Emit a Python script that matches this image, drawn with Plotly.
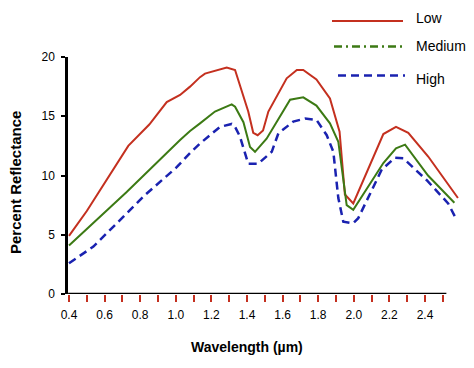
import plotly.graph_objects as go

# Data
low_x = [0.40, 0.50, 0.733, 0.851, 0.949, 1.024, 1.08, 1.136, 1.164, 1.286, 1.333, 1.407, 1.435, 1.46, 1.49, 1.52,
         1.623, 1.68, 1.716, 1.79, 1.866, 1.92, 1.95, 1.997, 2.166, 2.237, 2.306, 2.418, 2.585]
low_y = [4.9, 7.0, 12.5, 14.3, 16.2, 16.8, 17.5, 18.3, 18.6, 19.1, 18.9, 15.4, 13.6, 13.4, 13.8, 15.4,
         18.2, 18.9, 18.9, 18.1, 16.5, 13.7, 8.4, 7.65, 13.5, 14.1, 13.6, 11.6, 8.1]

med_x = [0.40, 0.724, 1.024, 1.08, 1.136, 1.22, 1.314, 1.333, 1.38, 1.417, 1.445, 1.51, 1.642, 1.716, 1.79,
         1.866, 1.913, 1.96, 1.997, 2.166, 2.237, 2.288, 2.417, 2.565]
med_y = [4.1, 8.6, 13.0, 13.75, 14.4, 15.4, 16.0, 15.8, 14.5, 12.4, 12.0, 13.1, 16.4, 16.6, 15.9,
         14.4, 12.85, 7.5, 7.1, 11.05, 12.3, 12.6, 10.0, 7.7]

high_x = [0.40, 0.537, 0.827, 1.005, 1.08, 1.136, 1.248, 1.314, 1.333, 1.36, 1.407, 1.463, 1.539, 1.576, 1.66,
          1.726, 1.79, 1.848, 1.885, 1.913, 1.941, 1.997, 2.025, 2.157, 2.231, 2.278, 2.41, 2.53, 2.578]
high_y = [2.6, 4.0, 8.35, 10.7, 11.9, 12.7, 14.1, 14.35, 14.1, 13.3, 11.0, 11.0, 12.0, 13.55, 14.55,
          14.8, 14.7, 13.4, 12.0, 8.1, 6.1, 5.97, 6.4, 10.5, 11.5, 11.45, 9.6, 7.65, 6.25]

series_names = ["Low", "Medium", "High"]
x_tick_vals = [0.4, 0.5, 0.6, 0.7, 0.8, 0.9, 1.0, 1.1, 1.2, 1.3, 1.4, 1.5, 1.6, 1.7, 1.8, 1.9, 2.0, 2.1, 2.2, 2.3, 2.4, 2.5]
x_tick_text = ["0.4", "", "0.6", "", "0.8", "", "1.0", "", "1.2", "", "1.4", "", "1.6", "", "1.8", "", "2.0", "", "2.2", "", "2.4", ""]
y_tick_vals = [0, 5, 10, 15, 20]
x_title = "Wavelength (µm)"
y_title = "Percent Reflectance"

RED = "#c4301f"
GREEN = "#3c7a14"
BLUE = "#1a22b0"
FONT = "Liberation Sans, Arial, sans-serif"

W, H = 474, 368
L, R, T, B = 68, 12, 57, 74
pw, ph = W - L - R, H - T - B


def px(x):
    return (x - L) / pw


def py(y):
    return (H - B - y) / ph


fig = go.Figure()
fig.add_trace(go.Scatter(x=low_x, y=low_y, mode="lines", line=dict(color=RED, width=2), name=series_names[0], showlegend=False))
fig.add_trace(go.Scatter(x=med_x, y=med_y, mode="lines", line=dict(color=GREEN, width=2), name=series_names[1], showlegend=False))
fig.add_trace(go.Scatter(x=high_x, y=high_y, mode="lines", line=dict(color=BLUE, width=2.5, dash="8px,5px"), name=series_names[2], showlegend=False))

# x-axis line (shorter than plotting range, as in the reference)
fig.add_shape(type="line", xref="x", yref="y", x0=0.395, x1=2.52, y0=0, y1=0, line=dict(color="black", width=2.5))

# manual legend
legend_items = [
    (series_names[0], RED, "solid", 2, 332, 403, 21, 18),
    (series_names[1], GREEN, "8px,4px,2px,4px", 2.5, 334, 404, 46.5, 46),
    (series_names[2], BLUE, "8px,5px", 2.5, 338, 405, 75.5, 79),
]
for name, col, dash, wd, xa, xb, yl, yt in legend_items:
    fig.add_shape(type="line", xref="paper", yref="paper", x0=px(xa), x1=px(xb), y0=py(yl), y1=py(yl),
                  line=dict(color=col, width=wd, dash=dash))
    fig.add_annotation(xref="paper", yref="paper", x=px(414), y=py(yt), text=name, showarrow=False,
                       xanchor="left", yanchor="middle", font=dict(family=FONT, size=14, color="black"))

# axis titles
fig.add_annotation(xref="paper", yref="paper", x=px(247), y=py(347), text="<b>" + x_title + "</b>", showarrow=False,
                   xanchor="center", yanchor="middle", font=dict(family=FONT, size=14, color="black"))
fig.add_annotation(xref="paper", yref="paper", x=px(15), y=py(183), text="<b>" + y_title + "</b>", showarrow=False,
                   textangle=-90, xanchor="center", yanchor="middle", font=dict(family=FONT, size=15, color="black"))

fig.update_layout(
    width=W, height=H,
    margin=dict(l=L, r=R, t=T, b=B, autoexpand=False),
    paper_bgcolor="white", plot_bgcolor="white",
    showlegend=False,
    xaxis=dict(
        range=[0.4 - 1 / 178, 0.4 + (W - R - 69) / 178],
        tickvals=x_tick_vals, ticktext=x_tick_text,
        ticks="outside", ticklen=7, tickwidth=1.5, tickcolor=RED,
        ticklabelstandoff=3, automargin=False,
        showline=False, showgrid=False, zeroline=False,
        tickfont=dict(family=FONT, size=12, color="black"),
    ),
    yaxis=dict(
        range=[0, 20],
        tickvals=y_tick_vals,
        ticks="outside", ticklen=4, tickwidth=2, tickcolor="black",
        ticklabelstandoff=4, automargin=False,
        showline=True, linecolor="black", linewidth=2.5,
        showgrid=False, zeroline=False,
        tickfont=dict(family=FONT, size=12, color="black"),
    ),
)

fig.write_html("out.html", config={"displayModeBar": False},
               post_script="document.body.style.margin='0';document.body.style.overflow='hidden';")
